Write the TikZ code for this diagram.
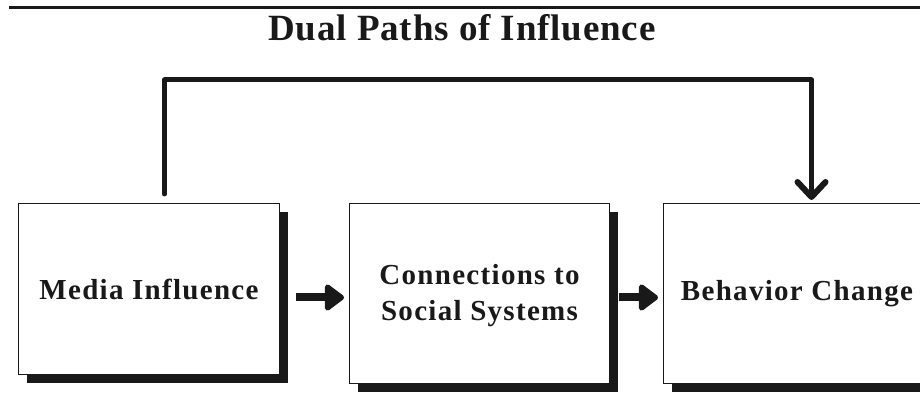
\documentclass[tikz,border=0pt]{standalone}
\usepackage{fontspec}
\setmainfont{Liberation Serif}
\usetikzlibrary{arrows.meta,shadows}
\begin{document}
\begin{tikzpicture}[x=1pt,y=-1pt,
  box/.style={draw=black!90, line width=1pt, fill=white, align=center, inner sep=0pt,
    anchor=north west, text=black!90,
    font=\fontsize{29}{36}\selectfont\bfseries\addfontfeatures{LetterSpace=4.5},
    drop shadow={shadow xshift=8.5pt, shadow yshift=-8.5pt, fill=black!90, opacity=1}},
  flow/.style={draw=black!90, line width=8pt, -{Triangle[length=21pt,width=30pt,round]}},
  loopline/.style={draw=black!90, line width=5pt, line join=round, line cap=round,
    -{Straight Barb[length=15pt,width=28pt,line width=6pt,round]}},
  titletext/.style={text=black!90, font=\fontsize{37}{44}\selectfont\bfseries\addfontfeatures{LetterSpace=2.3}},
]
\useasboundingbox (0,0) rectangle (920,419);
\clip (0,0) rectangle (920,419);
% top rule
\draw[black!90, line width=3pt] (9,8) -- (925,8);
% title
\node[titletext] (title) at (462,28) {Dual Paths of Influence};
% boxes
\node[box, minimum width=261pt, minimum height=171pt] (b1) at (18,203) {Media Influence};
\node[box, minimum width=260pt, minimum height=180pt] (b2) at (349,203) {\strut Connections to\\Social Systems};
\node[box, minimum width=267pt, minimum height=180pt] (b3) at (663,203) {\strut Behavior Change};
% flow arrows
\draw[flow] ([shift={(16pt,-8.5pt)}]b1.east) -- ([shift={(-5pt,-4pt)}]b2.west);
\draw[flow] ([shift={(9pt,-4pt)}]b2.east) -- ([shift={(-5pt,-4pt)}]b3.west);
% top loop
\draw[loopline] ([shift={(15.5pt,9pt)}]b1.north) -- ++(0,-114) -| ([shift={(14.5pt,3pt)}]b3.north);
\end{tikzpicture}
\end{document}
